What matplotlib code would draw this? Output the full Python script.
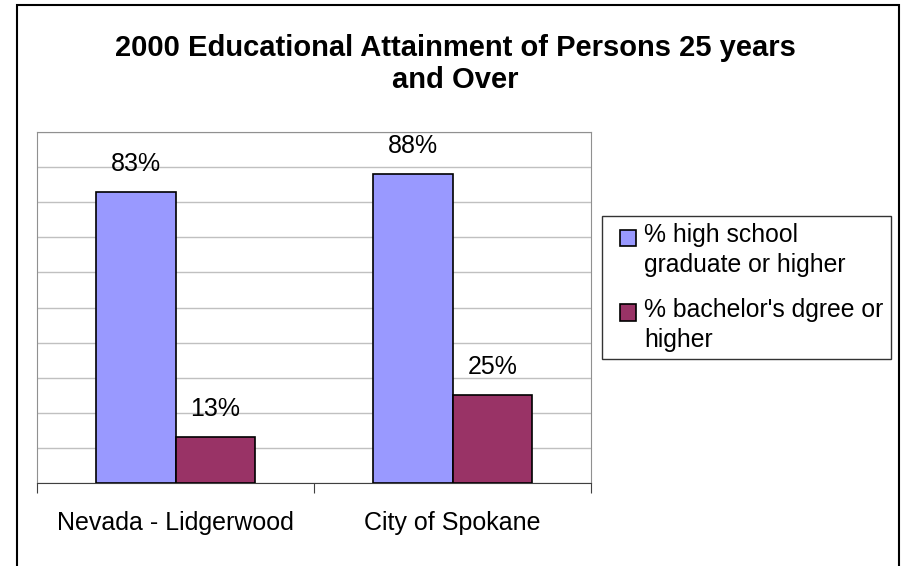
import matplotlib.pyplot as plt
from matplotlib.patches import Rectangle
from matplotlib.legend_handler import HandlerBase

plt.rcParams['font.family'] = ['Liberation Sans', 'DejaVu Sans']

places = ['Nevada - Lidgerwood', 'City of Spokane']
high_school = [0.83, 0.88]
bachelor = [0.13, 0.25]
series_names = ['% high school\ngraduate or higher', "% bachelor's dgree or\nhigher"]
colors = ['#9999FF', '#993366']


class TopSquare(HandlerBase):
    # square key lined up with the first line of a two-line label
    def create_artists(self, legend, orig_handle, xdescent, ydescent, width, height, fontsize, trans):
        s = 11.8
        y0 = height / 2 - s / 2 + 9.5
        r = Rectangle((width / 2 - s / 2 - xdescent, y0 - ydescent), s, s,
                      facecolor=orig_handle.get_facecolor(), edgecolor='black', lw=1.2, transform=trans)
        return [r]


fig = plt.figure(figsize=(9.02, 5.66), dpi=100)
ax = fig.add_axes([37/902, 1 - 483/566, (591 - 37)/902, (483 - 132)/566])

# outer chart border (bottom runs off the picture)
fig.add_artist(Rectangle((17/902, -0.05), (899 - 17)/902, (1 - 5/566) + 0.05,
                         transform=fig.transFigure, fill=False, edgecolor='black', lw=1.5))

x = [0, 1]
w = 0.288
b1 = ax.bar([i - w/2 for i in x], high_school, w, color=colors[0], edgecolor='black', lw=1.2, zorder=3)
b2 = ax.bar([i + w/2 for i in x], bachelor, w, color=colors[1], edgecolor='black', lw=1.2, zorder=3)

for bars in (b1, b2):
    for r in bars:
        ax.text(r.get_x() + r.get_width()/2, r.get_height() + 0.08, f'{r.get_height()*100:.0f}%',
                ha='center', va='center', fontsize=18)

ax.set_xlim(-0.5, 1.5)
ax.set_ylim(0, 1)
ax.set_yticks([i/10 for i in range(11)])
ax.set_yticklabels([])
ax.tick_params(axis='y', length=0)
ax.yaxis.grid(True, color='#c0c0c0', lw=1, zorder=0)

ax.set_xticks([-0.5, 0.5, 1.5])
ax.set_xticklabels([])
ax.tick_params(axis='x', length=7, color='#404040', direction='out')
for i, p in enumerate(places):
    ax.text(i, -0.114, p, ha='center', va='center', fontsize=18)

for s in ('left', 'top', 'right'):
    ax.spines[s].set_color('#909090')
ax.spines['bottom'].set_color('#404040')

fig.text(455/902, 1 - 64/566, '2000 Educational Attainment of Persons 25 years\nand Over',
         ha='center', va='center', fontsize=21, fontweight='bold', linespacing=1.15)

keys = [Rectangle((0, 0), 1, 1, facecolor=c) for c in colors]
leg = ax.legend(keys, series_names, loc='center left', bbox_to_anchor=(602/902, 1 - 287.5/566),
                bbox_transform=fig.transFigure, fontsize=17.8, frameon=True, fancybox=False,
                edgecolor='black', handlelength=1.5, handletextpad=-0.1, borderpad=0.3,
                labelspacing=0.85, borderaxespad=0, handler_map={Rectangle: TopSquare()})
leg.get_frame().set_linewidth(1)
for t in leg.get_texts():
    t.set_linespacing(1.3)

fig.savefig('out.png', dpi=100)
